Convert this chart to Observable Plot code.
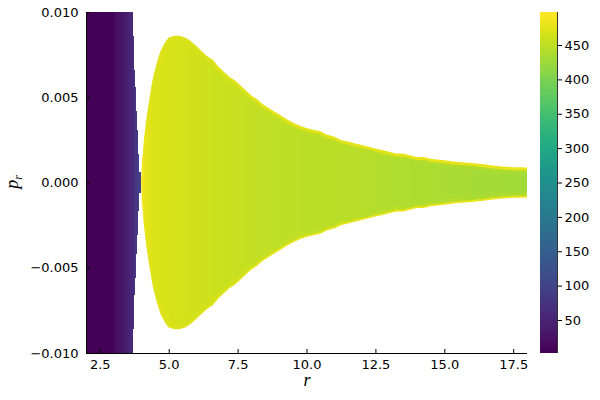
<!DOCTYPE html>
<html><head><meta charset="utf-8">
<script src="https://cdn.jsdelivr.net/npm/d3@7"></script>
<script src="https://cdn.jsdelivr.net/npm/@observablehq/plot@0.6"></script>
<style>
body{margin:0;background:#fff;}
#wrap{position:relative;width:600px;height:400px;overflow:hidden;background:#fff;}
#main{position:absolute;left:0;top:0;}
#bar{position:absolute;left:535px;top:0;}
#xlab{position:absolute;left:297px;top:370px;width:20px;text-align:center;font-family:"Liberation Serif";font-style:italic;font-size:18px;line-height:20px;color:#000;}
#ylab{position:absolute;left:14px;top:182px;transform:translate(-50%,-50%) rotate(-90deg);font-family:"Liberation Serif";font-style:italic;font-size:18px;color:#000;white-space:nowrap;}
#ylab sub{font-size:12px;}
</style></head><body>
<div id="wrap"><div id="main"></div><div id="bar"></div>
<div id="xlab">r</div><div id="ylab">p<sub>r</sub></div></div>
<script>
// ---- data ----
// inner (captured) region: column edges in r, half-extent in p_r, value
const leftEdges = [2.0, 3.0, 3.1, 3.2, 3.3, 3.4, 3.5, 3.6, 3.69, 3.73, 3.76, 3.81, 3.85, 3.89, 3.93, 3.98];
const leftHalfP = [0.01, 0.01, 0.01, 0.01, 0.01, 0.01, 0.01, 0.01, 0.0086, 0.0066, 0.0056, 0.0042, 0.0031, 0.0017, 0.0006];
const leftValue = [4, 14, 20, 27, 34, 42, 50, 58, 66, 72, 77, 82, 87, 92, 96];

// outer (bound) region: r samples, upper boundary in p_r at each r, and per-column core / mid / rim values
const rightEdges = [4.00,4.05,4.10,4.15,4.20,4.25,4.30,4.35,4.40,4.45,4.50,4.60,4.70,4.80,4.90,5.00,5.10,5.20,5.30,5.40,5.50,5.60,5.70,5.80,6.00,6.20,6.40,6.60,6.80,7.00,7.20,7.40,7.60,7.80,8.00,8.20,8.40,8.60,8.80,9.00,9.20,9.40,9.60,9.80,10.00,10.25,10.50,10.75,11.00,11.25,11.50,11.75,12.00,12.25,12.50,12.75,13.00,13.25,13.50,13.75,14.00,14.25,14.50,14.75,15.00,15.25,15.50,15.75,16.00,16.25,16.50,16.75,17.00,17.25,17.50,17.75,18.00];
const rightBoundary = [0.0000,0.0016,0.0025,0.0032,0.0039,0.0044,0.0049,0.0054,0.0059,0.0063,0.0066,0.0072,0.0077,0.0080,0.0083,0.0085,0.00855,0.0086,0.0086,0.0086,0.00855,0.0085,0.0084,0.0083,0.0080,0.0077,0.0074,0.0072,0.0068,0.0065,0.0062,0.0060,0.0057,0.0054,0.0051,0.0049,0.0046,0.0044,0.0042,0.0040,0.0038,0.0036,0.00345,0.0033,0.0032,0.0031,0.0030,0.0028,0.0027,0.0025,0.0024,0.0023,0.0022,0.0021,0.0020,0.0019,0.0018,0.0017,0.0017,0.0016,0.0015,0.0015,0.0014,0.00135,0.0013,0.00125,0.0012,0.00118,0.00114,0.0011,0.00105,0.0010,0.00096,0.00093,0.0009,0.0009,0.00088];
const rightCore = [490,486,482,479,477,475,474,473,472,471,470,469,468,468,467,467,466,466,465,465,464,464,463,463,462,461,460,459,458,457,456,455,454,453,452,451,450,450,449,449,448,448,448,447,447,446,446,446,445,445,444,444,443,442,441,440,439,439,438,437,436,436,435,435,434,434,433,433,432,432,431,431,431,430,430,430];
const rightMid  = [490,487,484,481,479,477,476,475,474,473,472,471,470,470,469,469,468,468,467,467,467,466,466,466,465,464,463,463,462,461,460,460,459,458,457,456,455,455,454,453,452,452,451,451,450,450,449,449,448,448,447,447,446,445,444,444,443,443,442,441,441,440,440,439,439,438,438,437,437,437,436,436,436,435,435,435];
const rightRim  = [490,488,486,484,482,480,478,477,476,475,474,473,472,472,471,471,471,471,471,471,471,471,471,472,472,472,473,473,474,474,474,475,475,475,476,476,476,476,477,477,477,477,477,477,477,477,477,478,478,478,478,478,478,478,478,478,478,478,478,479,479,479,479,479,479,479,479,479,479,479,479,479,480,480,480,480];

const xTicks = [2.5, 5, 7.5, 10, 12.5, 15, 17.5];
const yTicks = [-0.01, -0.005, 0, 0.005, 0.01];
const barTicks = [50, 100, 150, 200, 250, 300, 350, 400, 450];
const xDomain = [2, 18];
const yDomain = [-0.01, 0.01];
const colorDomain = [2, 498];

// ---- build marks' tables ----
const cells = [];
leftValue.forEach((v, i) => {
  cells.push({x1: leftEdges[i], x2: leftEdges[i + 1], y1: -leftHalfP[i], y2: leftHalfP[i], v});
});
const segs = [];
rightCore.forEach((c, i) => {
  const x1 = rightEdges[i], x2 = rightEdges[i + 1];
  const h = Math.max(rightBoundary[i], rightBoundary[i + 1]);
  cells.push({x1, x2, y1: -h, y2: h, v: c});
  if (x1 >= 4.6) segs.push({r1: x1, r2: x2, p1: rightBoundary[i], p2: rightBoundary[i + 1], mid: rightMid[i], rim: rightRim[i]});
});
const outline = rightEdges.map((r, i) => ({r, p: rightBoundary[i]}));

const colorOpts = {type: "linear", scheme: "viridis", domain: colorDomain};
const style = {fontFamily: "DejaVu Sans", fontSize: "13px", color: "#000", background: "white", overflow: "visible"};

const main = Plot.plot({
  width: 535, height: 400,
  marginLeft: 86, marginRight: 8, marginTop: 12, marginBottom: 47,
  style,
  x: {domain: xDomain},
  y: {domain: yDomain},
  color: colorOpts,
  marks: [
    Plot.rect(cells, {x1: "x1", x2: "x2", y1: "y1", y2: "y2", fill: "v", shapeRendering: "crispEdges"}),
    // softer band and brighter rim along the edge of the bound region
    Plot.link(segs, {x1: "r1", y1: "p1", x2: "r2", y2: "p2", stroke: "mid", strokeWidth: 12, strokeLinecap: "round", clip: "frame"}),
    Plot.link(segs, {x1: "r1", y1: d => -d.p1, x2: "r2", y2: d => -d.p2, stroke: "mid", strokeWidth: 12, strokeLinecap: "round", clip: "frame"}),
    Plot.link(segs, {x1: "r1", y1: "p1", x2: "r2", y2: "p2", stroke: "rim", strokeWidth: 5, strokeLinecap: "round", clip: "frame"}),
    Plot.link(segs, {x1: "r1", y1: d => -d.p1, x2: "r2", y2: d => -d.p2, stroke: "rim", strokeWidth: 5, strokeLinecap: "round", clip: "frame"}),
    // trim everything outside the boundary
    Plot.areaY(outline, {x: "r", y1: "p", y2: yDomain[1], fill: "white"}),
    Plot.areaY(outline, {x: "r", y1: d => -d.p, y2: yDomain[0], fill: "white"}),
    Plot.ruleX([xDomain[0]], {stroke: "#000"}),
    Plot.ruleY([yDomain[0]], {stroke: "#000"}),
    Plot.ruleX(xTicks, {x: d => d, y1: yDomain[0], y2: yDomain[0], insetTop: -4, stroke: "#000"}),
    Plot.ruleY(yTicks, {y: d => d, x1: xDomain[0], x2: xDomain[0], insetRight: -4, stroke: "#000"}),
    Plot.axisX(xTicks, {tickSize: 0, tickPadding: 6, fontSize: 13, tickFormat: d3.format(".1f"), label: null}),
    Plot.axisY(yTicks, {tickSize: 0, tickPadding: 8, fontSize: 13, tickFormat: d3.format(".3f"), label: null})
  ]
});
document.getElementById("main").appendChild(main);

const step = 2;
const barSteps = d3.range(colorDomain[0], colorDomain[1], step);
const bar = Plot.plot({
  width: 65, height: 400,
  marginLeft: 5, marginRight: 43, marginTop: 12, marginBottom: 47,
  style,
  x: {domain: [0, 1], axis: null},
  y: {domain: colorDomain},
  color: colorOpts,
  marks: [
    Plot.rect(barSteps, {x1: 0, x2: 1, y1: d => d, y2: d => Math.min(d + step, colorDomain[1]), fill: d => d + step / 2, shapeRendering: "crispEdges"}),
    Plot.ruleX([1], {stroke: "#333"}),
    Plot.axisY(barTicks, {anchor: "right", tickSize: 4, tickPadding: 3, fontSize: 13, label: null})
  ]
});
document.getElementById("bar").appendChild(bar);
</script>
</body></html>
